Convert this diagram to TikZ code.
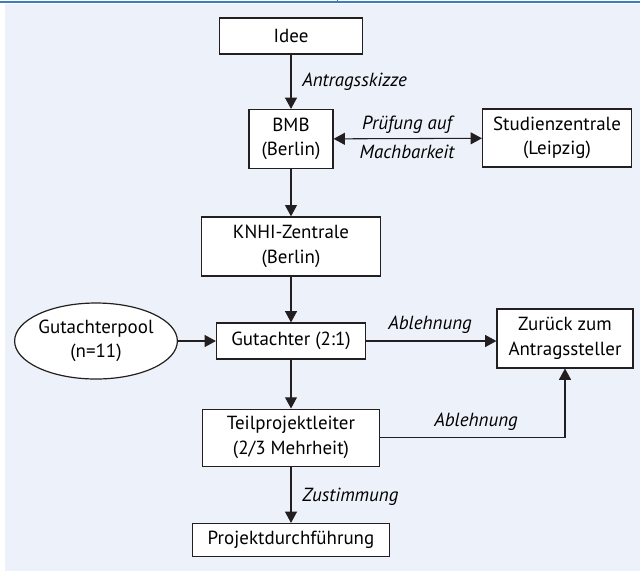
\documentclass[tikz,border=0pt]{standalone}
\usepackage{fontspec}
\setmainfont{PT Sans}
\usetikzlibrary{arrows.meta,shapes.geometric}
\definecolor{hgblau}{HTML}{EDF1F9}
\definecolor{linieblau}{HTML}{3C7DC0}
\definecolor{rand}{HTML}{231F20}

\begin{document}
\begin{tikzpicture}[>={Triangle[length=8pt,width=8.5pt]},
    kasten/.style={draw=rand,line width=0.85pt,fill=white,inner sep=0pt,align=center,
      font=\fontsize{13.5}{17.5}\selectfont},
    pool/.style={kasten,ellipse},
    beschr/.style={font=\fontsize{13.5}{17.5}\selectfont\itshape,inner sep=0pt},
    pfeil/.style={->,draw=rand,line width=0.75pt}]
		  % Hintergrund
		  \useasboundingbox (0,0) rectangle (16,-14.275);
		  \fill[white] (0,0) rectangle (16,-14.275);
		  \fill[hgblau] (0.125,-0.09) rectangle (16,-14.275);
		  \draw[linieblau,line width=0.9pt] (0,-0.05) -- (16,-0.05);
		  \draw[linieblau,line width=0.6pt] (8.425,0) -- (8.425,-0.05);
		  % Kaesten
		  \node[kasten,minimum width=3.575cm,minimum height=0.9cm] (idee) at (7.275,-0.9) {Idee};
		  \node[kasten,minimum width=2.1cm,minimum height=1.475cm] (bmb) at (7.275,-3.475) {BMB\\(Berlin)};
		  \node[kasten,minimum width=3.725cm,minimum height=1.45cm] (studz) at (13.925,-3.45) {Studienzentrale\\(Leipzig)};
		  \node[kasten,minimum width=4.475cm,minimum height=1.475cm] (knhi) at (7.275,-6.16) {KNHI-Zentrale\\(Berlin)};
		  \node[kasten,minimum width=3.725cm,minimum height=0.9cm] (gut) at (7.275,-8.525) {Gutachter (2:1)};
		  \node[pool,minimum width=3.75cm,minimum height=1.9cm] (gpool) at (2.4,-8.525) {Gutachterpool\\(n=11)};
		  \node[kasten,minimum width=3.4cm,minimum height=1.475cm] (zur) at (14.125,-8.46) {Zurück zum\\Antragssteller};
		  \node[kasten,minimum width=4.425cm,minimum height=1.425cm] (teil) at (7.275,-10.94) {Teilprojektleiter\\(2/3 Mehrheit)};
		  \node[kasten,minimum width=4.925cm,minimum height=0.825cm] (proj) at (7.275,-13.5) {Projektdurchführung};
		  % Beschriftungen
		  \node[beschr,anchor=west] (l1) at (7.55,-2.05) {Antragsskizze};
		  \node[beschr] (l2) at (10.175,-3.125) {Prüfung auf};
		  \node[beschr] (l3) at (10.175,-3.8) {Machbarkeit};
		  \node[beschr] (l4) at (10.75,-8.125) {Ablehnung};
		  \node[beschr] (l5) at (11.9,-10.55) {Ablehnung};
		  \node[beschr,anchor=west] (l6) at (7.55,-12.425) {Zustimmung};
		  % Pfeile
		  \coordinate (knick) at (zur.south |- teil.east);
		  \draw[pfeil] (idee) -- (bmb);
		  \draw[pfeil,<->] (bmb) -- (studz);
		  \draw[pfeil] (bmb) -- (knhi);
		  \draw[pfeil] (knhi) -- (gut);
		  \draw[pfeil] (gpool) -- (gut);
		  \draw[pfeil] (gut) -- (gut -| zur.west);
		  \draw[pfeil] (gut) -- (teil);
		  \draw[pfeil] (teil) -- (proj);
		  \draw[pfeil] (teil.east) -- (knick) -- (zur.south);
		\end{tikzpicture}
\end{document}
